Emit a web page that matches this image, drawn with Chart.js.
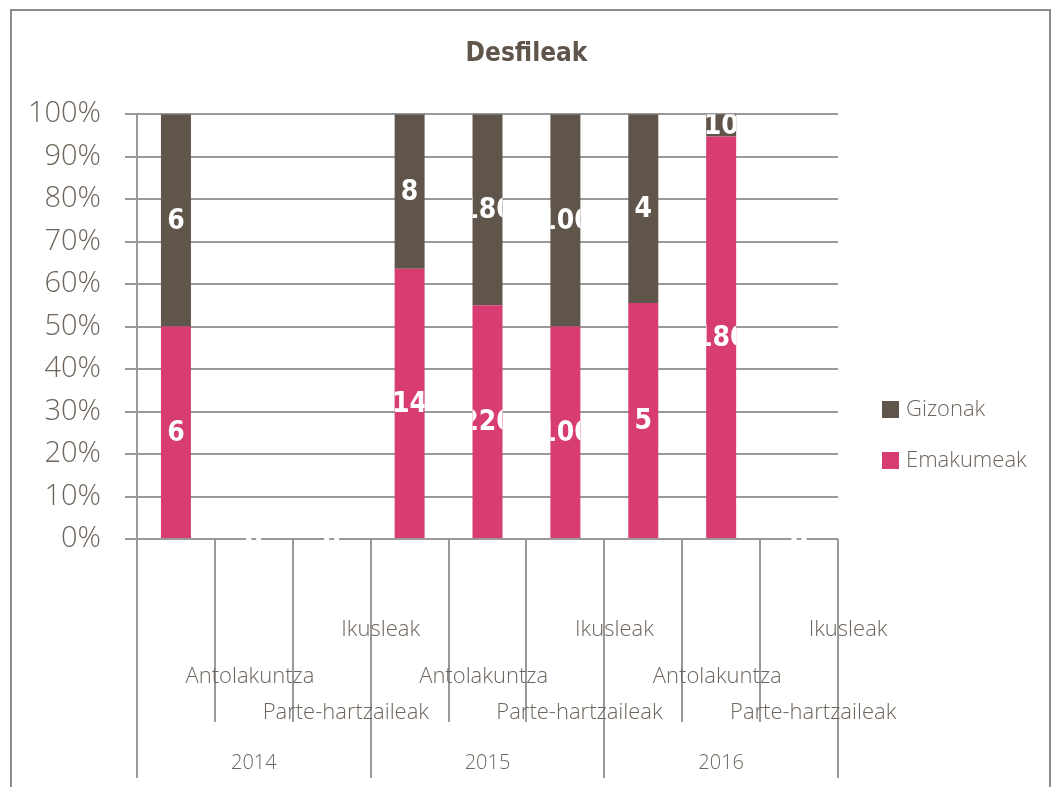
<!DOCTYPE html>
<html>
<head>
<meta charset="utf-8">
<title>Desfileak</title>
<script src="https://cdn.jsdelivr.net/npm/chart.js@4.4.1/dist/chart.umd.min.js"></script>
<style>
  html, body { margin: 0; padding: 0; background: #fff; }
  #wrap { position: relative; width: 1053px; height: 787px; overflow: hidden; }
  #chart { position: absolute; left: 0; top: 0; }
  #frame { position: absolute; left: 10px; top: 9px; width: 1041px; height: 820px;
           border: 2px solid #8c8c8c; box-sizing: border-box; pointer-events: none; }
</style>
</head>
<body>
<div id="wrap">
  <canvas id="chart" width="1053" height="787"></canvas>
  <div id="frame"></div>
</div>
<script>
// data
const years = ['2014', '2015', '2016'];
const categories = [
  'Antolakuntza', 'Parte-hartzaileak', 'Ikusleak',
  'Antolakuntza', 'Parte-hartzaileak', 'Ikusleak',
  'Antolakuntza', 'Parte-hartzaileak', 'Ikusleak'
];
const emakumeak = [6, 0, 0, 14, 220, 100, 5, 180, 0];
const gizonak = [6, 0, 0, 8, 180, 100, 4, 10, 0];
const yTicks = [0, 10, 20, 30, 40, 50, 60, 70, 80, 90, 100];

const pink = '#d83d71';
const brown = '#5f554a';
const textColor = '#6e655c';
const gridColor = '#999999';
const lightFont = "'Open Sans', 'Noto Sans', sans-serif";
const boldFont = "'DejaVu Sans Condensed', 'DejaVu Sans', sans-serif";

function pct(a, b) {
  return a.map((v, i) => (v + b[i]) === 0 ? 0 : v / (v + b[i]) * 100);
}

// white value labels, clipped to the bar like the original
const barLabels = {
  id: 'barLabels',
  afterDatasetsDraw(chart) {
    const ctx = chart.ctx;
    ctx.save();
    ctx.font = 'bold 28px ' + boldFont;
    ctx.fillStyle = '#ffffff';
    ctx.textAlign = 'center';
    ctx.textBaseline = 'middle';
    chart.data.datasets.forEach((ds, di) => {
      chart.getDatasetMeta(di).data.forEach((bar, i) => {
        const raw = ds.raw[i];
        const top = Math.min(bar.y, bar.base);
        const h = Math.abs(bar.base - bar.y);
        ctx.save();
        if (raw !== 0) {
          ctx.beginPath();
          ctx.rect(bar.x - bar.width / 2, top, bar.width, h);
          ctx.clip();
        }
        ctx.fillText(String(raw), bar.x, top + h / 2 + 1);
        ctx.restore();
      });
    });
    ctx.restore();
  }
};

// multi level category axis + legend
const axisAndLegend = {
  id: 'axisAndLegend',
  afterDraw(chart) {
    const ctx = chart.ctx;
    const xs = chart.scales.x;
    const area = chart.chartArea;
    const step = (area.right - area.left) / categories.length;
    ctx.save();
    ctx.strokeStyle = gridColor;
    ctx.lineWidth = 2;
    for (let i = 0; i <= categories.length; i++) {
      const x = Math.round(area.left + i * step);
      ctx.beginPath();
      ctx.moveTo(x, area.bottom);
      ctx.lineTo(x, i % 3 === 0 ? 778 : 722);
      ctx.stroke();
    }
    // staggered category labels
    const rowY = [677, 713, 630];
    const rowDx = [74, 92, 49];
    ctx.fillStyle = textColor;
    ctx.textAlign = 'center';
    ctx.textBaseline = 'middle';
    ctx.font = '300 22px ' + lightFont;
    categories.forEach((c, i) => {
      const k = i % 3;
      ctx.fillText(c, xs.getPixelForValue(i) + rowDx[k], rowY[k]);
    });
    ctx.font = '300 20px ' + lightFont;
    years.forEach((y, j) => {
      const x = (xs.getPixelForValue(j * 3) + xs.getPixelForValue(j * 3 + 2)) / 2;
      ctx.fillText(y, x, 763);
    });
    // legend (top series first)
    const items = [chart.data.datasets[1], chart.data.datasets[0]];
    ctx.textAlign = 'left';
    ctx.font = '300 22px ' + lightFont;
    items.forEach((ds, n) => {
      const cy = 409.5 + n * 51;
      ctx.fillStyle = ds.backgroundColor;
      ctx.fillRect(882, cy - 8.5, 17, 17);
      ctx.fillStyle = textColor;
      ctx.fillText(ds.label, 906, cy);
    });
    ctx.restore();
  }
};

new Chart(document.getElementById('chart'), {
  type: 'bar',
  data: {
    labels: categories,
    datasets: [
      { label: 'Emakumeak', data: pct(emakumeak, gizonak), raw: emakumeak, backgroundColor: pink },
      { label: 'Gizonak', data: pct(gizonak, emakumeak), raw: gizonak, backgroundColor: brown }
    ]
  },
  options: {
    responsive: false,
    animation: false,
    layout: { padding: { left: 0, top: 10, right: 0, bottom: 240 } },
    datasets: { bar: { categoryPercentage: 1, barPercentage: 0.385 } },
    plugins: {
      legend: { display: false },
      tooltip: {
        callbacks: {
          label: (c) => c.dataset.label + ': ' + c.dataset.raw[c.dataIndex]
        }
      },
      title: {
        display: true,
        text: 'Desfileak',
        color: brown,
        font: { family: boldFont, size: 26, weight: 'bold' },
        padding: { top: 29, bottom: 44 }
      }
    },
    scales: {
      x: {
        stacked: true,
        grid: { display: false },
        border: { display: false },
        ticks: { display: false }
      },
      y: {
        stacked: true,
        min: 0,
        max: 100,
        afterBuildTicks: (s) => { s.ticks = yTicks.map(v => ({ value: v })); },
        afterFit: (s) => { s.width = 137; },
        grid: { color: gridColor, lineWidth: 2, tickLength: 12, drawTicks: true },
        border: { display: true, color: gridColor, width: 2 },
        ticks: {
          padding: 24,
          color: textColor,
          font: { family: lightFont, size: 29, weight: '300' },
          callback: (v) => v + '%'
        }
      },
      // empty right-hand space reserved for the legend
      legendSpace: {
        position: 'right',
        grid: { display: false },
        border: { display: false },
        ticks: { display: false },
        afterFit: (s) => { s.width = 215; }
      }
    }
  },
  plugins: [barLabels, axisAndLegend]
});
</script>
</body>
</html>
